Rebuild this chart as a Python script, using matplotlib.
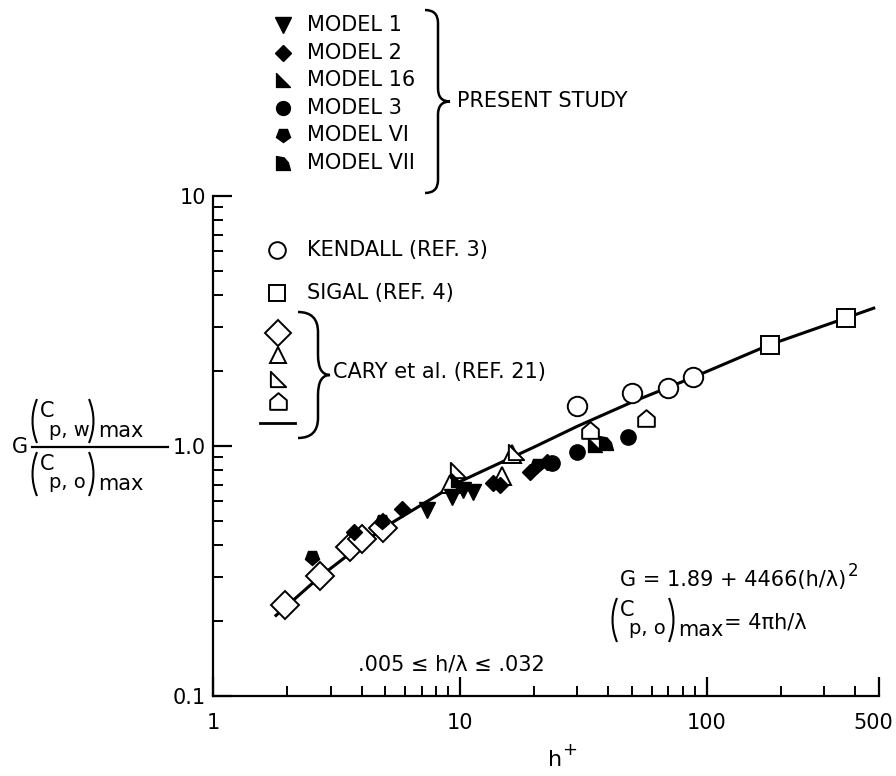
import matplotlib
matplotlib.use("Agg")
import matplotlib.pyplot as plt
from matplotlib.path import Path
from matplotlib.patches import PathPatch
from matplotlib.markers import MarkerStyle
from matplotlib.transforms import Affine2D, ScaledTranslation
from matplotlib.ticker import FixedLocator, FixedFormatter, NullFormatter

plt.rcParams['font.family'] = ['DejaVu Sans']

# ---- present study (filled symbols) ----
model1_x = [7.36, 9.3, 10.3, 11.3]
model1_y = [0.555, 0.625, 0.667, 0.655]
model2_x = [3.73, 5.83, 13.6, 14.5, 19.3, 22.5]
model2_y = [0.453, 0.56, 0.71, 0.70, 0.787, 0.86]
model16_x = [9.8, 35.3]
model16_y = [0.73, 1.01]
model3_x = [23.6, 29.8, 48.0]
model3_y = [0.855, 0.946, 1.09]
model6_x = [2.52, 4.84, 20.5]
model6_y = [0.36, 0.50, 0.84]
model7_x = [39.0]
model7_y = [1.03]

# ---- reference data (open symbols) ----
kendall_x = [29.9, 49.9, 69.8, 88.0]
kendall_y = [1.44, 1.63, 1.71, 1.89]
sigal_x = [180.6, 367.0]
sigal_y = [2.54, 3.25]
cary_diamond_x = [1.95, 2.71, 3.59, 4.02, 4.88]
cary_diamond_y = [0.232, 0.302, 0.394, 0.425, 0.47]
cary_tri_x = [9.13, 14.8, 16.3]
cary_tri_y = [0.705, 0.76, 0.93]
cary_rtri_x = [9.8, 16.9]
cary_rtri_y = [0.80, 0.95]
cary_house_x = [33.7, 56.8]
cary_house_y = [1.16, 1.29]

# ---- correlation curve ----
curve_x = [1.8, 2.71, 4.9, 10.0, 20.0, 30.0, 50.0, 88.0, 180.0, 367.0, 476.0]
curve_y = [0.21, 0.30, 0.47, 0.72, 0.99, 1.20, 1.50, 1.88, 2.54, 3.25, 3.56]

x_major = [1, 10, 100, 500]
x_major_labels = ['1', '10', '100', '500']
y_major = [0.1, 1.0, 10.0]
y_major_labels = ['0.1', '1.0', '10']

# custom marker shapes
rtri = MarkerStyle(Path([(-1, -1), (1, -1), (-1, 1), (-1, -1)],
                        [Path.MOVETO, Path.LINETO, Path.LINETO, Path.CLOSEPOLY]))
house = MarkerStyle(Path([(-1, -1), (1, -1), (1, 0.15), (0, 1), (-1, 0.15), (-1, -1)],
                         [Path.MOVETO, Path.LINETO, Path.LINETO, Path.LINETO, Path.LINETO,
                          Path.CLOSEPOLY]))
quarter = MarkerStyle(Path([(-1, -1), (1, -1), (0.7, 0.1), (0.1, 0.8), (-1, 1), (-1, -1)],
                           [Path.MOVETO, Path.LINETO, Path.LINETO, Path.LINETO, Path.LINETO,
                            Path.CLOSEPOLY]))
pent_down = MarkerStyle('p', transform=Affine2D().rotate_deg(180))

W, H = 896, 776
fig = plt.figure(figsize=(W / 100, H / 100), dpi=100)
L, R, T, B = 213, 879, 196, 696
ax = fig.add_axes([L / W, 1 - B / H, (R - L) / W, (B - T) / H])
ax.set_xscale('log')
ax.set_yscale('log')
ax.set_xlim(1, 500)
ax.set_ylim(0.1, 10)
for s in ('top', 'right'):
    ax.spines[s].set_visible(False)
for s in ('left', 'bottom'):
    ax.spines[s].set_linewidth(1.6)

ax.xaxis.set_major_locator(FixedLocator(x_major))
ax.xaxis.set_major_formatter(FixedFormatter(x_major_labels))
ax.xaxis.set_minor_locator(FixedLocator([2, 3, 4, 5, 6, 7, 8, 9, 20, 30, 40, 50, 60, 70, 80, 90,
                                         200, 300, 400]))
ax.xaxis.set_minor_formatter(NullFormatter())
ax.yaxis.set_major_locator(FixedLocator(y_major))
ax.yaxis.set_major_formatter(FixedFormatter(y_major_labels))
ax.yaxis.set_minor_locator(FixedLocator([0.2, 0.3, 0.4, 0.5, 0.6, 0.7, 0.8, 0.9,
                                         2, 3, 4, 5, 6, 7, 8, 9]))
ax.yaxis.set_minor_formatter(NullFormatter())
ax.tick_params(which='major', direction='in', length=14, width=1.6, labelsize=15)
ax.tick_params(which='minor', direction='in', length=7, width=1.4)
ax.tick_params(axis='x', which='major', pad=12)
ax.tick_params(axis='y', which='major', pad=5)

ax.plot(curve_x, curve_y, color='black', lw=2.2, zorder=2)

kw_open = dict(ls='none', mfc='white', mec='black', mew=1.4, clip_on=False, zorder=3)
kw_fill = dict(ls='none', color='black', clip_on=False, zorder=4)
ax.plot(kendall_x, kendall_y, 'o', ms=14, **kw_open)
ax.plot(sigal_x, sigal_y, 's', ms=13, **kw_open)
ax.plot(cary_diamond_x, cary_diamond_y, 'D', ms=14, **kw_open)
ax.plot(cary_tri_x, cary_tri_y, '^', ms=13, **kw_open)
ax.plot(cary_rtri_x, cary_rtri_y, marker=rtri, ms=11, **kw_open)
ax.plot(cary_house_x, cary_house_y, marker=house, ms=12, **kw_open)

ax.plot(model1_x, model1_y, 'v', ms=11, **kw_fill)
ax.plot(model2_x, model2_y, 'D', ms=8.5, **kw_fill)
ax.plot(model16_x, model16_y, marker=rtri, ms=10, **kw_fill)
ax.plot(model3_x, model3_y, 'o', ms=11, **kw_fill)
ax.plot(model6_x, model6_y, marker=pent_down, ms=11, **kw_fill)
ax.plot(model7_x, model7_y, marker=quarter, ms=10, **kw_fill)

# keep the last x tick label inside the figure edge
fig.canvas.draw()
last = ax.xaxis.get_majorticklabels()[-1]
last.set_transform(last.get_transform() + ScaledTranslation(-0.06, 0, fig.dpi_scale_trans))

# ---- overlay in pixel coordinates for key and annotations ----
ov = fig.add_axes([0, 0, 1, 1])
ov.set_xlim(0, W)
ov.set_ylim(H, 0)
ov.axis('off')
ov.patch.set_alpha(0)

FS = 15


def brace(x, y0, y1, hx, w, lw=1.8):
    ym = (y0 + y1) / 2
    r = hx
    verts = [(x, y0), (x + hx, y0), (x + hx, y0 + r),
             (x + hx, ym - r),
             (x + hx, ym), (x + w, ym),
             (x + hx, ym), (x + hx, ym + r),
             (x + hx, y1 - r),
             (x + hx, y1), (x, y1)]
    codes = [Path.MOVETO, Path.CURVE3, Path.CURVE3,
             Path.LINETO,
             Path.CURVE3, Path.CURVE3,
             Path.CURVE3, Path.CURVE3,
             Path.LINETO,
             Path.CURVE3, Path.CURVE3]
    ov.add_patch(PathPatch(Path(verts, codes), fill=False, lw=lw, color='black'))


def paren(x, y0, y1, bulge, lw=1.5):
    # bulge < 0 draws "(", bulge > 0 draws ")"
    verts = [(x, y0), (x + bulge, (y0 + y1) / 2), (x, y1)]
    ov.add_patch(PathPatch(Path(verts, [Path.MOVETO, Path.CURVE3, Path.CURVE3]),
                           fill=False, lw=lw, color='black'))


def paren_group(x, yc, sub, tail=None):
    # "(C_sub)max" with tall drawn parentheses, left edge at x, centred on yc
    paren(x + 5, yc - 22, yc + 22, -9)
    ov.text(x + 8, yc - 10, 'C', fontsize=FS, va='center', ha='left')
    ov.text(x + 17, yc + 9, sub, fontsize=FS - 1, va='center', ha='left')
    paren(x + 57, yc - 22, yc + 22, 9)
    ov.text(x + 66, yc + 10, 'max', fontsize=FS, va='center', ha='left')
    if tail:
        ov.text(x + 112, yc + 2, tail, fontsize=FS, va='center', ha='left')


present = [('v', 'MODEL 1'), ('D', 'MODEL 2'), (rtri, 'MODEL 16'),
           ('o', 'MODEL 3'), (pent_down, 'MODEL VI'), (quarter, 'MODEL VII')]
msz = {'v': 11, 'D': 8, 'o': 10}
for i, (m, lab) in enumerate(present):
    y = 25 + i * 27.6
    ov.plot([283], [y], marker=m, ms=msz.get(m, 10) if isinstance(m, str) else 10,
            color='black', ls='none')
    ov.text(307, y, lab, fontsize=FS, va='center', ha='left')
brace(425, 10, 193, 13, 25)
ov.text(457, 101, 'PRESENT STUDY', fontsize=FS, va='center', ha='left')

ov.plot([277], [250], 'o', ms=12, mfc='white', mec='black', mew=1.4)
ov.text(307, 250, 'KENDALL (REF. 3)', fontsize=FS, va='center', ha='left')
ov.plot([277], [293], 's', ms=11, mfc='white', mec='black', mew=1.4)
ov.text(307, 293, 'SIGAL (REF. 4)', fontsize=FS, va='center', ha='left')
ov.plot([278], [333], 'D', ms=13, mfc='white', mec='black', mew=1.4)
ov.plot([278], [355], '^', ms=12, mfc='white', mec='black', mew=1.4)
ov.plot([278], [379], marker=rtri, ms=11, mfc='white', mec='black', mew=1.4)
ov.plot([278], [401], marker=house, ms=12, mfc='white', mec='black', mew=1.4)
ov.plot([260, 295], [423, 423], color='black', lw=2)
brace(298, 312, 438, 20, 32)
ov.text(333, 372, 'CARY et al. (REF. 21)', fontsize=FS, va='center', ha='left')

# y-axis label: G times a stacked ratio
ov.text(12, 447, 'G', fontsize=FS, va='center', ha='left')
paren_group(32, 421, 'p, w')
ov.plot([32, 168], [447, 447], color='black', lw=1.6)
paren_group(32, 474, 'p, o')

# correlation annotations
tg = ov.text(620, 580, 'G = 1.89 + 4466(h/λ)', fontsize=FS, va='center', ha='left')
ov.annotate('2', xy=(1.0, 0.95), xycoords=tg, fontsize=12, va='center', ha='left',
            xytext=(1, 0), textcoords='offset points')
paren_group(612, 620, 'p, o', tail='= 4πh/λ')
ov.text(358, 665, '.005 ≤ h/λ ≤ .032', fontsize=FS, va='center', ha='left')

th = ov.text(555, 760, 'h', fontsize=FS + 1, va='center', ha='center')
ov.annotate('+', xy=(1.0, 1.0), xycoords=th, fontsize=13, va='center', ha='left',
            xytext=(0, 0), textcoords='offset points')

fig.savefig('out.png', dpi=100)
